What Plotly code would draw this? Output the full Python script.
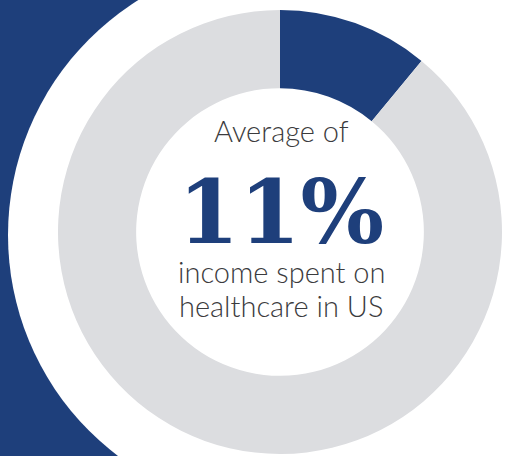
import plotly.graph_objects as go

labels = ["Healthcare", "Other income"]
values = [11, 89]
slice_colors = ["#1e3f7b", "#dcdde0"]
headline = "11%"
line_top = "Average of"
line_bottom = ["income spent on", "healthcare in US"]

W, H = 507, 456
BLUE = "#1e3f7b"
TEXT = "#3b3b3d"

def px(x):
    return x / W

def py(y):
    return 1 - y / H

cx, cy, r_out = 280, 232, 222
bx, by, r_bg = 285, 235, 277

fig = go.Figure()
fig.add_trace(go.Pie(
    labels=labels, values=values, hole=0.648, sort=False,
    direction="clockwise", rotation=0,
    marker=dict(colors=slice_colors, line=dict(width=0)),
    textinfo="none", hoverinfo="label+percent", showlegend=False,
    domain=dict(x=[px(cx - r_out), px(cx + r_out)], y=[py(cy + r_out), py(cy - r_out)]),
))

fig.add_shape(type="rect", xref="paper", yref="paper",
              x0=0, x1=px(bx), y0=0, y1=1,
              fillcolor=BLUE, line=dict(width=0), layer="below")
fig.add_shape(type="circle", xref="paper", yref="paper",
              x0=px(bx - r_bg), x1=px(bx + r_bg), y0=py(by + r_bg), y1=py(by - r_bg),
              fillcolor="white", line=dict(width=0), layer="below")

def note(text, y, size, family, color, weight):
    fig.add_annotation(text=text, xref="paper", yref="paper", x=px(281), y=py(y),
                       xanchor="center", yanchor="middle", showarrow=False,
                       font=dict(family=family, size=size, color=color, weight=weight))

note(line_top, 131, 29, "Lato", TEXT, 300)
note(headline, 212, 88, "DejaVu Serif", BLUE, 900)
note(line_bottom[0], 271, 29, "Lato", TEXT, 300)
note(line_bottom[1], 305, 29, "Lato", TEXT, 300)

fig.update_layout(width=W, height=H, margin=dict(l=0, r=0, t=0, b=0),
                  paper_bgcolor="white", plot_bgcolor="white",
                  xaxis=dict(visible=False), yaxis=dict(visible=False))
fig.write_html("out.html")
